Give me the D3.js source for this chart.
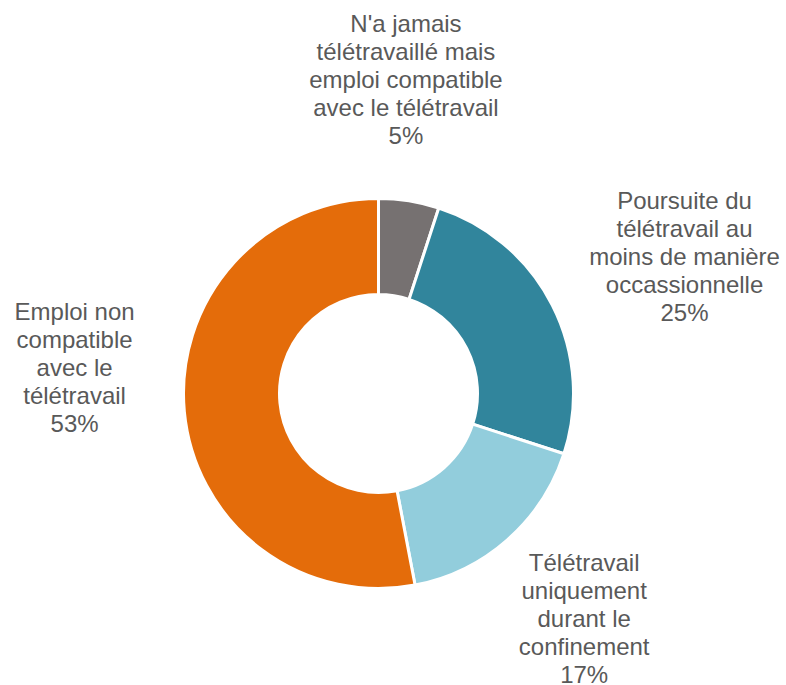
<!DOCTYPE html>
<html>
<head>
<meta charset="utf-8">
<script src="https://cdn.jsdelivr.net/npm/d3@7"></script>
<style>
  body { margin: 0; background: #fff; }
  svg { display: block; }
  .lbl { font-family: "Liberation Sans", Arial, sans-serif; font-size: 24px; fill: #595959; }
</style>
</head>
<body>
<svg id="chart" width="786" height="685"></svg>
<script>
// data
const categories = [
  "N'a jamais télétravaillé mais emploi compatible avec le télétravail",
  "Poursuite du télétravail au moins de manière occassionnelle",
  "Télétravail uniquement durant le confinement",
  "Emploi non compatible avec le télétravail"
];
const valeurs = [5, 25, 17, 53];
const lignesLabels = [
  ["N'a jamais", "télétravaillé mais", "emploi compatible", "avec le télétravail"],
  ["Poursuite du", "télétravail au", "moins de manière", "occassionnelle"],
  ["Télétravail", "uniquement", "durant le", "confinement"],
  ["Emploi non", "compatible", "avec le", "télétravail"]
];
const couleurs = ["#767171", "#31859c", "#92cddc", "#e46c0a"];

// mise en page
const cx = 378.5, cy = 393.5;
const rExt = 195, rInt = 99;
const rLabel = [315, 335, 305, 305];
const decalAngle = [-4, 3, -1, 10.2]; // degrés
const hLigne = 28;

const svg = d3.select("#chart");
const g = svg.append("g").attr("transform", `translate(${cx},${cy})`);

const pie = d3.pie().sort(null).value(d => d);
const arcs = pie(valeurs);
const arc = d3.arc().innerRadius(rInt).outerRadius(rExt);

g.selectAll(".part")
  .data(arcs)
  .enter()
  .append("path")
  .attr("class", "part")
  .attr("d", arc)
  .style("fill", (d, i) => couleurs[i])
  .style("stroke", "#fff")
  .style("stroke-width", 3);

let total = d3.sum(valeurs);

arcs.forEach((d, i) => {
  let a = (d.startAngle + d.endAngle) / 2 + decalAngle[i] * Math.PI / 180;
  let x = Math.sin(a) * rLabel[i];
  let y = -Math.cos(a) * rLabel[i];
  let lignes = lignesLabels[i].concat([Math.round(d.value / total * 100) + "%"]);
  let y0 = y - (lignes.length - 1) / 2 * hLigne + 8;
  let t = g.append("text")
    .attr("class", "lbl")
    .attr("text-anchor", "middle");
  lignes.forEach((l, k) => {
    t.append("tspan")
      .attr("x", x)
      .attr("y", y0 + k * hLigne)
      .text(l);
  });
});
</script>
</body>
</html>
